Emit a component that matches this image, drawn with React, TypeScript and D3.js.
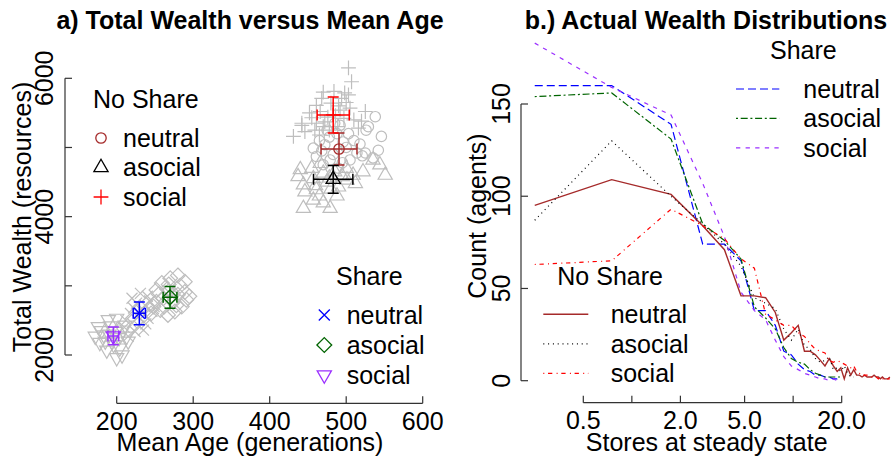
import { useEffect, useRef } from "react";
import * as d3 from "d3";

// ---- panel a: mean age vs total wealth (gray = individual runs) ----
const noShareNeutralPts: [number, number][] = [
  [538, 5445], [529, 5300], [546, 5160], [542, 4960], [457, 4990], [472, 5040], [496, 5080], [525, 4920],
  [514, 4920], [479, 4820], [505, 4820], [488, 5200], [461, 4870], [485, 5350], [492, 5320], [526, 5250],
  [521, 4880], [478, 5150], [500, 5000], [468, 4950], [510, 5100], [483, 4900], [495, 4780], [475, 5250],
  [465, 5100], [518, 5050], [503, 5200], [490, 4700], [470, 4750], [535, 4850],
];
const noShareAsocialPts: [number, number][] = [
  [440, 4680], [437, 4580], [444, 4460], [446, 4360], [444, 4120], [457, 4240], [479, 4120], [461, 4390],
  [470, 4630], [501, 4530], [509, 4600], [522, 4650], [535, 4820], [544, 4750], [551, 4600], [490, 4430],
  [466, 4770], [457, 4550], [475, 4500], [485, 4650], [495, 4580], [465, 4300], [480, 4400], [512, 4480],
  [470, 4200], [455, 4700], [500, 4700], [488, 4300], [478, 4560], [460, 4450],
];
const noShareSocialPts: [number, number][] = [
  [503, 6150], [507, 5950], [498, 5790], [470, 5800], [468, 5710], [494, 5710], [503, 5760], [525, 5520],
  [461, 5610], [466, 5520], [492, 5540], [505, 5570], [442, 5350], [461, 5350], [472, 5370], [431, 5160],
  [442, 5320], [459, 5250], [516, 5280], [446, 5230], [480, 5640], [486, 5460], [476, 5440], [455, 5430],
  [489, 5300], [510, 5400], [465, 5180], [478, 5250], [500, 5650], [484, 5810], [490, 5600], [470, 5300],
  [452, 5500], [520, 5380], [497, 5420],
];
const shareNeutralPts: [number, number][] = [
  [220, 2820], [231, 2890], [237, 2720], [241, 2530], [235, 2360], [224, 2340], [220, 2460], [246, 2630],
  [215, 2270], [228, 2550], [232, 2650], [226, 2750], [243, 2780], [218, 2600], [210, 2400], [238, 2450],
  [249, 2700], [212, 2500], [229, 2420], [236, 2580], [222, 2680], [240, 2850],
];
const shareAsocialPts: [number, number][] = [
  [280, 3150], [289, 3060], [270, 3110], [259, 3040], [252, 2940], [289, 2910], [291, 2800], [285, 2700],
  [276, 2630], [267, 2580], [257, 2650], [252, 2770], [261, 2820], [274, 2770], [280, 2870], [266, 2950],
  [248, 2700], [262, 2700], [283, 3000], [245, 2600], [272, 2860], [255, 2880], [278, 2720], [268, 3020],
  [295, 2850],
];
const shareSocialPts: [number, number][] = [
  [176, 2410], [189, 2510], [200, 2530], [183, 2290], [194, 2190], [204, 2100], [207, 2000], [213, 2270],
  [172, 2270], [198, 2340], [187, 2070], [211, 2430], [180, 2350], [192, 2420], [203, 2250], [185, 2200],
  [196, 2150], [208, 2360], [178, 2180], [200, 1960], [190, 2300], [215, 2200],
];

// group order: noShare neutral, asocial, social, share neutral, asocial, social
const groupNames = ["neutral", "asocial", "social", "neutral", "asocial", "social"];
const groupColors = ["#A52A2A", "#000000", "#FF0000", "#0000FF", "#006400", "#9B30FF"];
const groupShapes = ["circle", "triUp", "plus", "cross", "diamond", "triDown"];
const meanAge = [490.6, 483, 483, 229.6, 269.7, 195.6];
const meanWealth = [4978, 4540, 5470, 2603, 2834, 2275];
const sdAge = [23.5, 25.7, 21, 8, 9, 7];
const sdWealth = [230, 200, 260, 164, 157, 128];
const groupPts = [noShareNeutralPts, noShareAsocialPts, noShareSocialPts, shareNeutralPts, shareAsocialPts, shareSocialPts];

const ageTicks = [200, 300, 400, 500, 600];
const wealthTicks = [2000, 4000, 6000];
const wealthMinor = [3000, 5000];

// ---- panel b: distributions of stores ----
const storeBins = [
  0.25, 0.75, 1.75, 2.75, 3.75, 4.75, 5.75, 6.75, 7.75, 8.75, 9.75, 10.75, 11.75, 12.75, 13.75, 14.75,
  15.75, 16.75, 17.75, 18.75, 19.75, 20.75, 21.75, 22.75, 23.75, 24.75, 25.75, 26.75, 27.75, 28.75, 29.75,
  30.75, 31.75, 32.75, 33.75, 34.75, 35.75, 36.75, 37.75, 38.75, 39.75,
];
const shareNeutralCounts = [160, 160, 139, 74, 74, 65, 38, 38, 30, 16, 14, 9, 6, 5, 3, 3, 2, 2, 1, 1, 2];
const shareAsocialCounts = [154, 156, 131, 85, 76, 66, 40, 34, 28, 18, 12, 10, 9, 6, 4, 3, 2, 2, 2, 2, 2];
const shareSocialCounts = [183, 159, 144, 107, 78, 48, 38, 33, 22, 13, 8, 6, 4, 3, 2, 1, 1, 0, 1, 0, 0];
const noShareNeutralCounts = [
  95, 109, 101, 84, 71, 46, 46, 45, 37, 22, 26, 30, 16, 16, 14, 11, 8, 12, 8, 5, 7, 1, 7, 3, 6, 3, 3, 2, 3, 2,
  2, 2, 3, 2, 2, 1, 2, 1, 1, 1, 2,
];
const noShareAsocialCounts = [87, 130, 100, 85, 74, 62, 45, 42, 39, 28, 22, 28, 19, 17, 12, 10, 11, 13, 6, 7, 5, 8, 4, 2, 2];
const noShareSocialCounts = [
  63, 65, 93, 84, 77, 66, 61, 36, 33, 30, 30, 26, 24, 20, 17, 16, 15, 11, 10, 11, 10, 9, 8, 7, 8, 5, 4, 3, 3, 3,
  2, 2, 2, 2, 1, 2, 1, 1, 1, 1, 1,
];
const storeTicks = [0.5, 1, 2, 5, 10, 20];
const storeTickLabels = ["0.5", "", "2.0", "5.0", "", "20.0"];
const countTicks = [0, 50, 100, 150];

const lineSeries = [
  { name: "neutral", values: shareNeutralCounts, color: "#0000FF", dash: "8,4", w: 1.2 },
  { name: "asocial", values: shareAsocialCounts, color: "#006400", dash: "2,2.7,7,2.7", w: 1.2 },
  { name: "social", values: shareSocialCounts, color: "#9B30FF", dash: "4.3,5.3", w: 1.2 },
  { name: "neutral", values: noShareNeutralCounts, color: "#A52A2A", dash: "", w: 1.4 },
  { name: "asocial", values: noShareAsocialCounts, color: "#000000", dash: "1,3.8", w: 1.2 },
  { name: "social", values: noShareSocialCounts, color: "#FF0000", dash: "1,3.7,4.3,4.3", w: 1.2 },
];

const FONT = "'Liberation Sans', Arial, Helvetica, sans-serif";

function symbolPath(shape: string, x: number, y: number): string {
  switch (shape) {
    case "circle":
      return `M${x + 5.2},${y}A5.2,5.2 0 1,1 ${x - 5.2},${y}A5.2,5.2 0 1,1 ${x + 5.2},${y}Z`;
    case "triUp":
      return `M${x},${y - 8.2}L${x + 7.1},${y + 4.1}L${x - 7.1},${y + 4.1}Z`;
    case "triDown":
      return `M${x},${y + 8.2}L${x + 7.1},${y - 4.1}L${x - 7.1},${y - 4.1}Z`;
    case "plus":
      return `M${x - 7.4},${y}H${x + 7.4}M${x},${y - 7.4}V${y + 7.4}`;
    case "cross":
      return `M${x - 5.5},${y - 5.5}L${x + 5.5},${y + 5.5}M${x + 5.5},${y - 5.5}L${x - 5.5},${y + 5.5}`;
    default:
      return `M${x},${y - 7.4}L${x + 7.4},${y}L${x},${y + 7.4}L${x - 7.4},${y}Z`;
  }
}

export default function App() {
  const ref = useRef<SVGSVGElement>(null);

  useEffect(() => {
    const svg = d3.select(ref.current);
    svg.selectAll("*").remove();
    const g = svg.append("g").attr("font-family", FONT).attr("font-size", 25);

    // ---------- panel a ----------
    const xA = d3.scaleLinear().domain([200, 600]).range([116.7, 422.7]);
    const yA = d3.scaleLinear().domain([2000, 6000]).range([355, 78.3]);

    g.append("text").attr("x", 250).attr("y", 29).attr("text-anchor", "middle")
      .attr("font-weight", "bold").text("a) Total Wealth versus Mean Age");

    // axes (ticks point inwards)
    const axA = g.append("g").attr("stroke", "#333").attr("fill", "none").attr("stroke-width", 1.2);
    axA.append("line").attr("x1", xA(200)).attr("x2", xA(600)).attr("y1", 403.3).attr("y2", 403.3);
    ageTicks.forEach((t) => {
      axA.append("line").attr("x1", xA(t)).attr("x2", xA(t)).attr("y1", 403.3).attr("y2", 396.3);
      g.append("text").attr("x", xA(t)).attr("y", 430).attr("text-anchor", "middle").text(t);
    });
    axA.append("line").attr("x1", 65).attr("x2", 65).attr("y1", yA(2000)).attr("y2", yA(6000));
    [...wealthTicks, ...wealthMinor].forEach((t) => {
      axA.append("line").attr("x1", 65).attr("x2", 72).attr("y1", yA(t)).attr("y2", yA(t));
    });
    wealthTicks.forEach((t) => {
      g.append("text").attr("transform", `translate(53,${yA(t)}) rotate(-90)`)
        .attr("text-anchor", "middle").text(t);
    });
    g.append("text").attr("x", 250).attr("y", 451).attr("text-anchor", "middle").text("Mean Age (generations)");
    g.append("text").attr("transform", `translate(31,217) rotate(-90)`).attr("text-anchor", "middle")
      .text("Total Wealth (resources)");

    // gray individual runs
    const pts = g.append("g").attr("fill", "none").attr("stroke", "#BEBEBE").attr("stroke-width", 1.2);
    groupPts.forEach((arr, i) => {
      arr.forEach(([a, w]) => {
        pts.append("path").attr("d", symbolPath(groupShapes[i], xA(a), yA(w)));
      });
    });

    // means with error bars
    const cap = 5.5;
    groupNames.forEach((_, i) => {
      const cx = xA(meanAge[i]);
      const cy = yA(meanWealth[i]);
      const x0 = xA(meanAge[i] - sdAge[i]);
      const x1 = xA(meanAge[i] + sdAge[i]);
      const y0 = yA(meanWealth[i] - sdWealth[i]);
      const y1 = yA(meanWealth[i] + sdWealth[i]);
      const eb = g.append("g").attr("stroke", groupColors[i]).attr("fill", "none").attr("stroke-width", 1.5);
      eb.append("path").attr("d",
        `M${x0},${cy}H${x1}M${x0},${cy - cap}V${cy + cap}M${x1},${cy - cap}V${cy + cap}` +
        `M${cx},${y0}V${y1}M${cx - cap},${y0}H${cx + cap}M${cx - cap},${y1}H${cx + cap}`);
      eb.append("path").attr("d", symbolPath(groupShapes[i], cx, cy)).attr("stroke-width", 1.3);
    });

    // legends panel a
    g.append("text").attr("x", 93).attr("y", 108).text("No Share");
    [0, 1, 2].forEach((i, k) => {
      const yy = 138 + k * 29.5;
      g.append("path").attr("d", symbolPath(groupShapes[i], 101, yy)).attr("fill", "none")
        .attr("stroke", groupColors[i]).attr("stroke-width", 1.3);
      g.append("text").attr("x", 123).attr("y", yy + 8.5).text(groupNames[i]);
    });
    g.append("text").attr("x", 336).attr("y", 285).text("Share");
    [3, 4, 5].forEach((i, k) => {
      const yy = 315 + k * 30;
      g.append("path").attr("d", symbolPath(groupShapes[i], 324.3, yy)).attr("fill", "none")
        .attr("stroke", groupColors[i]).attr("stroke-width", 1.3);
      g.append("text").attr("x", 346.7).attr("y", yy + 8.5).text(groupNames[i]);
    });

    // ---------- panel b ----------
    const xB = d3.scaleLog().domain([0.5, 20]).range([583.3, 841.7]);
    const yB = d3.scaleLinear().domain([0, 150]).range([380.7, 104]);

    g.append("text").attr("x", 706).attr("y", 29).attr("text-anchor", "middle")
      .attr("font-weight", "bold").text("b.) Actual Wealth Distributions");

    const axB = g.append("g").attr("stroke", "#333").attr("fill", "none").attr("stroke-width", 1.2);
    axB.append("line").attr("x1", xB(0.5)).attr("x2", xB(20)).attr("y1", 402.7).attr("y2", 402.7);
    storeTicks.forEach((t, i) => {
      axB.append("line").attr("x1", xB(t)).attr("x2", xB(t)).attr("y1", 402.7).attr("y2", 395.7);
      if (storeTickLabels[i]) {
        g.append("text").attr("x", xB(t)).attr("y", 429).attr("text-anchor", "middle").text(storeTickLabels[i]);
      }
    });
    axB.append("line").attr("x1", 521).attr("x2", 521).attr("y1", yB(0)).attr("y2", yB(150));
    countTicks.forEach((t) => {
      axB.append("line").attr("x1", 521).attr("x2", 528).attr("y1", yB(t)).attr("y2", yB(t));
      g.append("text").attr("transform", `translate(510,${yB(t)}) rotate(-90)`)
        .attr("text-anchor", "middle").text(t);
    });
    g.append("text").attr("x", 706.7).attr("y", 451).attr("text-anchor", "middle").text("Stores at steady state");
    g.append("text").attr("transform", `translate(486,216) rotate(-90)`).attr("text-anchor", "middle")
      .text("Count (agents)");

    const line = d3.line<number>()
      .x((_, i) => xB(storeBins[i]))
      .y((d) => yB(d));
    lineSeries.forEach((s) => {
      g.append("path").attr("d", line(s.values) ?? "").attr("fill", "none")
        .attr("stroke", s.color).attr("stroke-width", s.w)
        .attr("stroke-dasharray", s.dash || null);
    });

    // legends panel b
    g.append("text").attr("x", 770).attr("y", 59).text("Share");
    lineSeries.slice(0, 3).forEach((s, k) => {
      const yy = 89 + k * 29.4;
      g.append("line").attr("x1", 736).attr("x2", 779.3).attr("y1", yy).attr("y2", yy)
        .attr("stroke", s.color).attr("stroke-width", s.w).attr("stroke-dasharray", s.dash || null);
      g.append("text").attr("x", 803.3).attr("y", yy + 8.7).text(s.name);
    });
    g.append("text").attr("x", 557.3).attr("y", 285).text("No Share");
    lineSeries.slice(3).forEach((s, k) => {
      const yy = 314.3 + k * 29.5;
      g.append("line").attr("x1", 543.3).attr("x2", 588.3).attr("y1", yy).attr("y2", yy)
        .attr("stroke", s.color).attr("stroke-width", s.w).attr("stroke-dasharray", s.dash || null);
      g.append("text").attr("x", 610.7).attr("y", yy + 9).text(s.name);
    });
  }, []);

  return (
    <svg
      ref={ref}
      width={891}
      height={460}
      style={{ position: "absolute", left: 0, top: 0, background: "#fff" }}
    />
  );
}
